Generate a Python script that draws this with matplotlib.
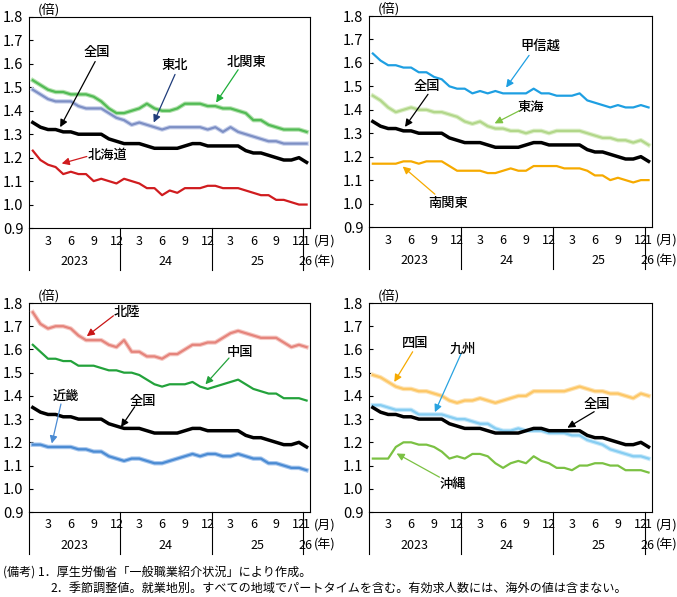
import numpy as np
import matplotlib.pyplot as plt
from matplotlib import transforms

plt.rcParams['font.family'] = ['Noto Sans CJK JP', 'DejaVu Sans']

# monthly, Jan 2023 .. Jan 2026 (37 points)
x = np.arange(37)
month_labels = ['3', '6', '9', '12', '3', '6', '9', '12', '3', '6', '9', '12', '1']
month_pos = [2, 5, 8, 11, 14, 17, 20, 23, 26, 29, 32, 35, 36]
year_labels = ['2023', '24', '25', '26']
year_pos = [5.5, 17.5, 29.5, 35.9]

zenkoku = [1.35, 1.33, 1.32, 1.32, 1.31, 1.31, 1.30, 1.30, 1.30, 1.30, 1.28, 1.27,
           1.26, 1.26, 1.26, 1.25, 1.24, 1.24, 1.24, 1.24, 1.25, 1.26, 1.26, 1.25,
           1.25, 1.25, 1.25, 1.25, 1.23, 1.22, 1.22, 1.21, 1.20, 1.19, 1.19, 1.20, 1.18]

hokkaido = [1.23, 1.19, 1.17, 1.16, 1.13, 1.14, 1.13, 1.13, 1.10, 1.11, 1.10, 1.09,
            1.11, 1.10, 1.09, 1.07, 1.07, 1.04, 1.06, 1.05, 1.07, 1.07, 1.07, 1.08,
            1.08, 1.07, 1.07, 1.07, 1.06, 1.05, 1.04, 1.04, 1.02, 1.02, 1.01, 1.00, 1.00]
tohoku = [1.49, 1.47, 1.45, 1.44, 1.44, 1.44, 1.42, 1.41, 1.41, 1.41, 1.39, 1.37,
          1.36, 1.34, 1.35, 1.34, 1.33, 1.32, 1.33, 1.33, 1.33, 1.33, 1.33, 1.32,
          1.33, 1.31, 1.33, 1.31, 1.30, 1.29, 1.28, 1.27, 1.27, 1.26, 1.26, 1.26, 1.26]
kitakanto = [1.53, 1.51, 1.49, 1.48, 1.48, 1.47, 1.47, 1.47, 1.46, 1.44, 1.41, 1.39,
             1.39, 1.40, 1.41, 1.43, 1.41, 1.40, 1.40, 1.41, 1.43, 1.43, 1.43, 1.42,
             1.42, 1.41, 1.41, 1.40, 1.39, 1.36, 1.36, 1.34, 1.33, 1.32, 1.32, 1.32, 1.31]

koshinetsu = [1.64, 1.61, 1.59, 1.59, 1.58, 1.58, 1.56, 1.56, 1.54, 1.53, 1.50, 1.49,
              1.49, 1.47, 1.48, 1.47, 1.48, 1.47, 1.47, 1.47, 1.47, 1.49, 1.47, 1.47,
              1.46, 1.46, 1.46, 1.47, 1.44, 1.43, 1.42, 1.41, 1.42, 1.41, 1.41, 1.42, 1.41]
tokai = [1.46, 1.44, 1.41, 1.39, 1.40, 1.41, 1.40, 1.40, 1.39, 1.39, 1.38, 1.37,
         1.35, 1.34, 1.35, 1.33, 1.32, 1.32, 1.31, 1.31, 1.30, 1.31, 1.31, 1.30,
         1.31, 1.31, 1.31, 1.31, 1.30, 1.29, 1.28, 1.28, 1.27, 1.27, 1.26, 1.27, 1.25]
minamikanto = [1.17, 1.17, 1.17, 1.17, 1.18, 1.18, 1.17, 1.18, 1.18, 1.18, 1.16, 1.14,
               1.14, 1.14, 1.14, 1.13, 1.13, 1.14, 1.15, 1.14, 1.14, 1.16, 1.16, 1.16,
               1.16, 1.15, 1.15, 1.15, 1.14, 1.12, 1.12, 1.10, 1.11, 1.10, 1.09, 1.10, 1.10]

hokuriku = [1.76, 1.71, 1.69, 1.70, 1.70, 1.69, 1.66, 1.64, 1.64, 1.64, 1.62, 1.61,
            1.64, 1.59, 1.59, 1.57, 1.57, 1.56, 1.58, 1.58, 1.60, 1.62, 1.62, 1.63,
            1.63, 1.65, 1.67, 1.68, 1.67, 1.66, 1.65, 1.65, 1.65, 1.63, 1.61, 1.62, 1.61]
chugoku = [1.62, 1.59, 1.56, 1.56, 1.55, 1.55, 1.53, 1.53, 1.53, 1.52, 1.51, 1.51,
           1.50, 1.50, 1.49, 1.47, 1.45, 1.44, 1.45, 1.45, 1.45, 1.46, 1.44, 1.43,
           1.44, 1.45, 1.46, 1.47, 1.45, 1.43, 1.42, 1.41, 1.41, 1.39, 1.39, 1.39, 1.38]
kinki = [1.19, 1.19, 1.18, 1.18, 1.18, 1.18, 1.17, 1.17, 1.16, 1.16, 1.14, 1.13,
         1.12, 1.13, 1.13, 1.12, 1.11, 1.11, 1.12, 1.13, 1.14, 1.15, 1.14, 1.15,
         1.15, 1.14, 1.14, 1.15, 1.14, 1.13, 1.13, 1.11, 1.11, 1.10, 1.09, 1.09, 1.08]

shikoku = [1.49, 1.48, 1.46, 1.44, 1.43, 1.43, 1.42, 1.42, 1.41, 1.40, 1.38, 1.37,
           1.38, 1.38, 1.39, 1.38, 1.37, 1.38, 1.39, 1.40, 1.40, 1.42, 1.42, 1.42,
           1.42, 1.42, 1.43, 1.44, 1.43, 1.42, 1.42, 1.41, 1.41, 1.40, 1.39, 1.41, 1.40]
kyushu = [1.36, 1.36, 1.35, 1.34, 1.34, 1.34, 1.32, 1.32, 1.32, 1.32, 1.31, 1.30,
          1.30, 1.29, 1.28, 1.28, 1.26, 1.25, 1.25, 1.26, 1.25, 1.25, 1.25, 1.24,
          1.24, 1.24, 1.23, 1.23, 1.21, 1.20, 1.19, 1.17, 1.16, 1.15, 1.14, 1.14, 1.13]
okinawa = [1.13, 1.13, 1.13, 1.18, 1.20, 1.20, 1.19, 1.19, 1.18, 1.16, 1.13, 1.14,
           1.13, 1.15, 1.15, 1.14, 1.11, 1.09, 1.11, 1.12, 1.11, 1.14, 1.12, 1.11,
           1.09, 1.09, 1.08, 1.10, 1.10, 1.11, 1.11, 1.10, 1.10, 1.08, 1.08, 1.08, 1.07]

# (values, line colour, pale edge colour or None)
panels = [
    [(kitakanto, '#52bb55', '#b5e2b0'), (tohoku, '#7d8fc4', '#c9d2ec'),
     (hokkaido, '#d01c1f', None), (zenkoku, 'black', None)],
    [(koshinetsu, '#1e9fe2', None), (tokai, '#b2d78a', '#dcefc8'),
     (minamikanto, '#f6aa00', None), (zenkoku, 'black', None)],
    [(hokuriku, '#e5847c', '#f6c9c4'), (chugoku, '#23a23b', None),
     (kinki, '#4b8bd3', '#a9c8ee'), (zenkoku, 'black', None)],
    [(shikoku, '#fdc766', '#fde3b3'), (kyushu, '#86cdf2', '#c8e9fa'),
     (okinawa, '#7bc143', None), (zenkoku, 'black', None)],
]

# (text, text x, text y, arrow start, arrow tip, arrow colour)
notes = [
    [('全国', 8.4, 1.65, (8.2, 1.61), (3.6, 1.33), 'black'),
     ('東北', 18.7, 1.595, (18.7, 1.555), (15.9, 1.35), '#1f3c7a'),
     ('北関東', 28.1, 1.61, (27.0, 1.575), (24.1, 1.435), '#1fae3a'),
     ('北海道', 9.8, 1.21, (7.1, 1.205), (3.8, 1.175), '#d01c1f')],
    [('甲信越', 21.9, 1.675, (20.4, 1.632), (17.4, 1.495), '#1e9fe2'),
     ('全国', 7.1, 1.50, (7.2, 1.466), (4.2, 1.327), 'black'),
     ('東海', 20.6, 1.41, (19.2, 1.397), (15.9, 1.342), '#7dc242'),
     ('南関東', 9.8, 1.003, (8.1, 1.04), (3.9, 1.158), '#f6aa00')],
    [('北陸', 12.4, 1.76, (10.6, 1.745), (7.1, 1.657), '#c81414'),
     ('中国', 27.3, 1.59, (25.8, 1.563), (22.7, 1.45), '#23a23b'),
     ('近畿', 4.3, 1.40, (3.7, 1.365), (2.5, 1.195), '#4b8bd3'),
     ('全国', 14.5, 1.38, (13.4, 1.353), (11.6, 1.266), 'black')],
    [('四国', 5.5, 1.628, (5.2, 1.59), (2.8, 1.46), '#f6aa00'),
     ('九州', 11.7, 1.603, (11.5, 1.58), (8.1, 1.33), '#29a3e0'),
     ('全国', 29.3, 1.367, (28.9, 1.332), (25.4, 1.263), 'black'),
     ('沖縄', 10.4, 1.022, (8.7, 1.05), (3.1, 1.152), '#7bc143')],
]

fig = plt.figure(figsize=(6.77, 5.97), dpi=100)
boxes = [
    [29 / 677, 1 - 228 / 597, 281 / 677, 211 / 597],
    [369 / 677, 1 - 227 / 597, 283 / 677, 211 / 597],
    [29 / 677, 1 - 512 / 597, 281 / 677, 209 / 597],
    [369 / 677, 1 - 512 / 597, 283 / 677, 209 / 597],
]

for box, series, labels in zip(boxes, panels, notes):
    ax = fig.add_axes(box)
    for vals, col, edge in series:
        if col == 'black':
            ax.plot(x, vals, color=col, lw=2.5, solid_joinstyle='round', zorder=5)
        else:
            if edge:
                ax.plot(x, vals, color=edge, lw=3.2, zorder=3)
            ax.plot(x, vals, color=col, lw=1.6, zorder=4)

    ax.set_xlim(-0.5, 36.45)
    ax.set_ylim(0.9, 1.8)
    ax.set_yticks(np.arange(0.9, 1.81, 0.1))
    ax.set_yticklabels(['%.1f' % v for v in np.arange(0.9, 1.81, 0.1)], fontsize=10.5)
    ax.tick_params(axis='y', direction='in', length=3, width=0.8, pad=4)
    ax.set_xticks([])
    for sp in ax.spines.values():
        sp.set_linewidth(0.8)

    trans = transforms.blended_transform_factory(ax.transData, ax.transAxes)
    for p, lab in zip(month_pos, month_labels):
        ax.text(p, -0.062, lab, transform=trans, ha='center', va='center', fontsize=9)
    for p, lab in zip(year_pos, year_labels):
        ax.text(p, -0.16, lab, transform=trans, ha='center', va='center', fontsize=9)
    for sx in [-0.5, 11.5, 23.5, 35.5]:
        ax.plot([sx, sx], [0, -0.2], transform=trans, color='black', lw=0.8, clip_on=False)
    ax.text(1.014, -0.062, '(月)', transform=ax.transAxes, ha='left', va='center', fontsize=9.3)
    ax.text(1.014, -0.16, '(年)', transform=ax.transAxes, ha='left', va='center', fontsize=9.3)
    ax.text(0.07, 1.035, '(倍)', transform=ax.transAxes, ha='center', va='center', fontsize=9.5)

    for txt, tx, ty, start, tip, acol in labels:
        ax.text(tx, ty, txt, ha='center', va='center', fontsize=9.5,
                fontweight='medium', zorder=6)
        ax.annotate('', xy=tip, xytext=start,
                    arrowprops=dict(arrowstyle='-|>', color=acol, lw=0.9,
                                    mutation_scale=11, shrinkA=0, shrinkB=0),
                    zorder=6)

fig.text(3 / 677, 1 - 573 / 597, '(備考) 1．厚生労働省「一般職業紹介状況」により作成。',
         fontsize=8.7, va='center', ha='left')
fig.text(50 / 677, 1 - 588 / 597,
         '2．季節調整値。就業地別。すべての地域でパートタイムを含む。有効求人数には、海外の値は含まない。',
         fontsize=8.7, va='center', ha='left')

fig.savefig('out.png', dpi=100)
